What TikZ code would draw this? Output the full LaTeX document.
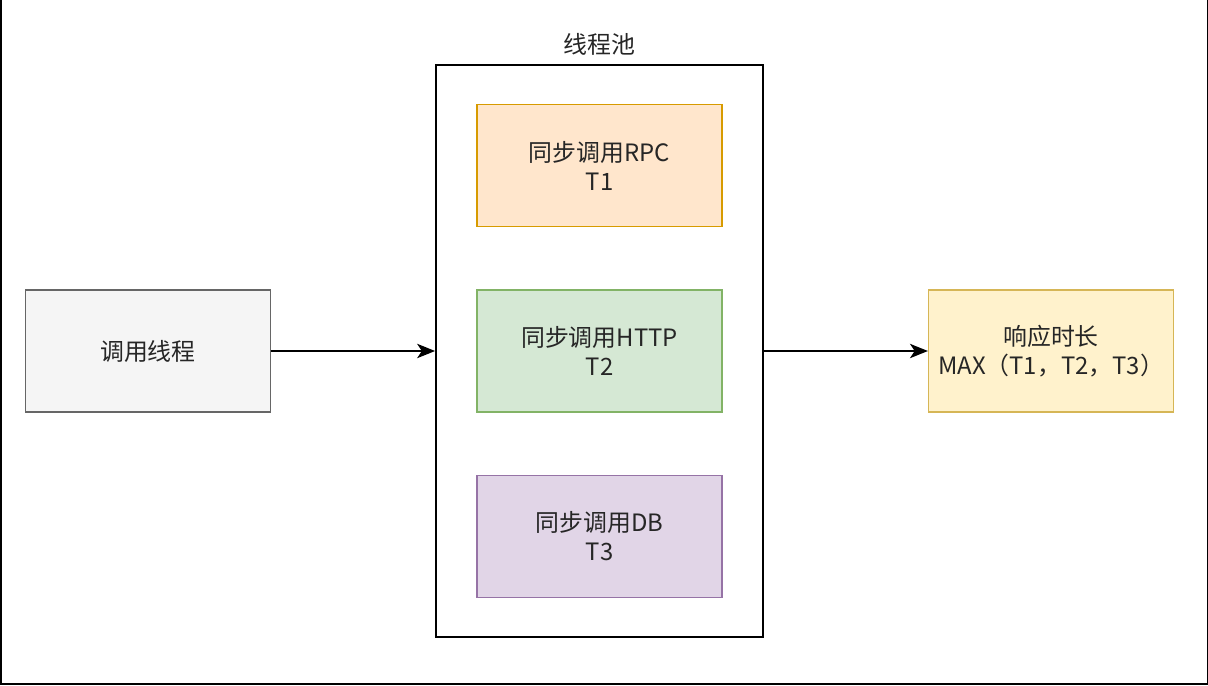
\documentclass[tikz,border=0pt]{standalone}
\usepackage{fontspec}
\setmainfont{Noto Sans CJK SC}
\usepackage{xcolor}
\usepackage{tikz}
\usetikzlibrary{arrows.meta,positioning}
\definecolor{grayfill}{HTML}{F5F5F5}
\definecolor{graydraw}{HTML}{666666}
\definecolor{orangefill}{HTML}{FFE6CC}
\definecolor{orangedraw}{HTML}{D79B00}
\definecolor{greenfill}{HTML}{D5E8D4}
\definecolor{greendraw}{HTML}{82B366}
\definecolor{purplefill}{HTML}{E1D5E7}
\definecolor{purpledraw}{HTML}{9673A6}
\definecolor{yellowfill}{HTML}{FFF2CC}
\definecolor{yellowdraw}{HTML}{D6B656}

\begin{document}
\begin{tikzpicture}[node distance=15.5mm and 41mm,every node/.style={font=\fontsize{17}{20.5}\selectfont,text=black!85},box/.style={draw,line width=0.9pt,align=center,minimum width=61.25mm,minimum height=30.5mm,inner sep=0pt},pool/.style={draw=black,line width=1.3pt,minimum width=81.75mm,minimum height=143mm,inner sep=0pt},arr/.style={-{Stealth[length=4.5mm,width=3.6mm,inset=1.2mm]},line width=1.1pt,draw=black}]
\useasboundingbox (0,0) rectangle (30.2,-17.15);
\draw[line width=1pt] (0.02,0) -- (0.02,-17.1) -- (30.18,-17.1) -- (30.18,0);
\node[pool] (tp) at (14.9875,-8.775) {};
\node[above=1mm of tp] (tplabel) {线程池};
\node[box,draw=greendraw,fill=greenfill] (http) at (tp.center) {同步调用HTTP\\T2};
\node[box,draw=orangedraw,fill=orangefill,above=of http] (rpc) {同步调用RPC\\T1};
\node[box,draw=purpledraw,fill=purplefill,below=of http] (db) {同步调用DB\\T3};
\node[box,draw=graydraw,fill=grayfill,left=of tp] (caller) {调用线程};
\node[box,draw=yellowdraw,fill=yellowfill,right=of tp] (resp) {响应时长\\MAX（T1，T2，T3）};
\draw[arr] (caller) -- (tp);
\draw[arr] (tp) -- (resp);
\end{tikzpicture}
\end{document}
